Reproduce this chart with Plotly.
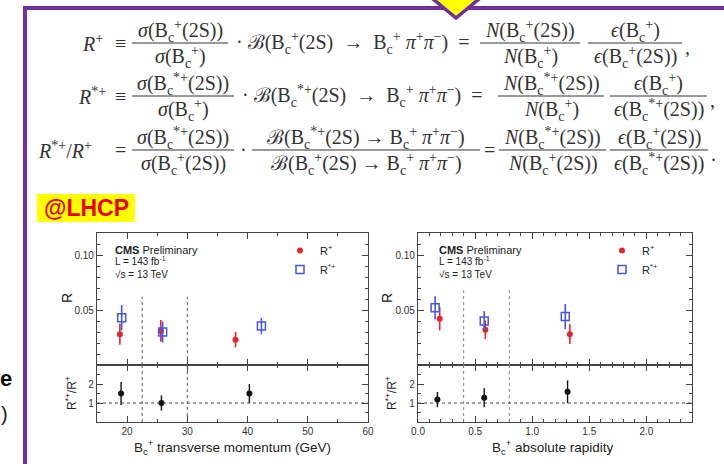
import plotly.graph_objects as go

W, H = 724, 464


def px(x):
    return x / W


def py(y):
    return 1 - y / H


# ---------------- data ----------------
# transverse momentum panel
pt_rplus_x = [18.8, 25.6, 38.0]
pt_rplus_y = [0.028, 0.031, 0.023]
pt_rplus_err = [0.0095, 0.0098, 0.007]
pt_rstar_x = [19.1, 25.9, 42.3]
pt_rstar_y = [0.043, 0.030, 0.0355]
pt_rstar_err = [0.0115, 0.0095, 0.0075]
pt_ratio_x = [19.0, 25.7, 40.3]
pt_ratio_y = [1.5, 1.0, 1.5]
pt_ratio_err = [0.6, 0.4, 0.5]
pt_bin_edges = [22.5, 30.0]

# absolute rapidity panel
y_rplus_x = [0.19, 0.59, 1.33]
y_rplus_y = [0.042, 0.032, 0.028]
y_rplus_err = [0.0106, 0.0084, 0.009]
y_rstar_x = [0.15, 0.58, 1.29]
y_rstar_y = [0.052, 0.040, 0.044]
y_rstar_err = [0.0106, 0.009, 0.0115]
y_ratio_x = [0.17, 0.58, 1.31]
y_ratio_y = [1.18, 1.28, 1.59]
y_ratio_err = [0.4, 0.5, 0.6]
y_bin_edges = [0.4, 0.8]

RED = "#e3262d"
BLUE = "#4656e6"
BLACK = "#111111"
PURPLE = "#7030A0"
EQC = "#333333"

fig = go.Figure()


def add_pair(xr, yr, er, xs, ys, es, xref, yref, legend):
    fig.add_trace(go.Scatter(
        x=xr, y=yr, mode="markers", name="R<sup>+</sup>",
        marker=dict(symbol="circle", size=6, color=RED),
        error_y=dict(type="data", array=er, color=RED, thickness=1.6, width=0),
        xaxis=xref, yaxis=yref, legend=legend, showlegend=True))
    fig.add_trace(go.Scatter(
        x=xs, y=ys, mode="markers", name="R<sup>*+</sup>",
        marker=dict(symbol="square-open", size=8, color=BLUE, line=dict(width=1.5, color=BLUE)),
        error_y=dict(type="data", array=es, color=BLUE, thickness=1.6, width=0),
        xaxis=xref, yaxis=yref, legend=legend, showlegend=True))


add_pair(pt_rplus_x, pt_rplus_y, pt_rplus_err, pt_rstar_x, pt_rstar_y, pt_rstar_err, "x", "y", "legend")
add_pair(y_rplus_x, y_rplus_y, y_rplus_err, y_rstar_x, y_rstar_y, y_rstar_err, "x3", "y3", "legend2")

fig.add_trace(go.Scatter(
    x=pt_ratio_x, y=pt_ratio_y, mode="markers", showlegend=False,
    marker=dict(symbol="circle", size=6, color=BLACK),
    error_y=dict(type="data", array=pt_ratio_err, color=BLACK, thickness=1.4, width=0),
    xaxis="x2", yaxis="y2"))
fig.add_trace(go.Scatter(
    x=y_ratio_x, y=y_ratio_y, mode="markers", showlegend=False,
    marker=dict(symbol="circle", size=6, color=BLACK),
    error_y=dict(type="data", array=y_ratio_err, color=BLACK, thickness=1.4, width=0),
    xaxis="x4", yaxis="y4"))

# ---------------- axes ----------------
TICKFONT = dict(family="Liberation Sans, Arial", size=10, color="#333")


def base_axis(**kw):
    d = dict(showline=True, linecolor="#444", linewidth=1.3, mirror="allticks",
             ticks="inside", ticklen=6, tickwidth=1.2, tickcolor="#444",
             showgrid=False, zeroline=False, tickfont=TICKFONT, automargin=False)
    d.update(kw)
    return d


L_X = [px(97), px(368)]
R_X = [px(418), px(692)]
MAIN_Y = [py(365), py(233)]
RAT_Y = [py(422), py(365)]

main_minor = [i / 100 for i in range(1, 12) if i not in (5, 10)]

fig.update_layout(
    xaxis=base_axis(domain=L_X, anchor="y", range=[15, 60], dtick=10, tick0=0,
                    showticklabels=False, matches="x2",
                    minor=dict(ticks="inside", ticklen=3, dtick=5, tick0=0, tickcolor="#444")),
    yaxis=base_axis(domain=MAIN_Y, anchor="x", range=[0, 0.12], tickmode="array",
                    tickvals=[0.05, 0.10], ticktext=["0.05", "0.10"],
                    minor=dict(ticks="inside", ticklen=3, tickmode="array", tickvals=main_minor,
                               tickcolor="#444")),
    xaxis2=base_axis(domain=L_X, anchor="y2", range=[15, 60], dtick=10, tick0=0,
                     minor=dict(ticks="inside", ticklen=3, dtick=5, tick0=0, tickcolor="#444")),
    yaxis2=base_axis(domain=RAT_Y, anchor="x2", range=[0, 3], tickmode="array",
                     tickvals=[1, 2], ticktext=["1", "2"],
                     minor=dict(ticks="inside", ticklen=3, tickmode="array", tickvals=[0.5, 1.5, 2.5],
                                tickcolor="#444")),
    xaxis3=base_axis(domain=R_X, anchor="y3", range=[0, 2.4], dtick=0.5, tick0=0,
                     showticklabels=False, matches="x4",
                     minor=dict(ticks="inside", ticklen=3, dtick=0.1, tick0=0, tickcolor="#444")),
    yaxis3=base_axis(domain=MAIN_Y, anchor="x3", range=[0, 0.12], tickmode="array",
                     tickvals=[0.05, 0.10], ticktext=["0.05", "0.10"],
                     minor=dict(ticks="inside", ticklen=3, tickmode="array", tickvals=main_minor,
                                tickcolor="#444")),
    xaxis4=base_axis(domain=R_X, anchor="y4", range=[0, 2.4], dtick=0.5, tick0=0, tickformat=".1f",
                     minor=dict(ticks="inside", ticklen=3, dtick=0.1, tick0=0, tickcolor="#444")),
    yaxis4=base_axis(domain=RAT_Y, anchor="x4", range=[0, 3], tickmode="array",
                     tickvals=[1, 2], ticktext=["1", "2"],
                     minor=dict(ticks="inside", ticklen=3, tickmode="array", tickvals=[0.5, 1.5, 2.5],
                                tickcolor="#444")),
)

# ---------------- legends ----------------
LEGFONT = dict(family="Liberation Sans, Arial", size=11, color="#222")
fig.update_layout(
    legend=dict(x=px(280), y=py(236), xanchor="left", yanchor="top", font=LEGFONT,
                bgcolor="rgba(0,0,0,0)", itemwidth=30, tracegroupgap=0),
    legend2=dict(x=px(602), y=py(236), xanchor="left", yanchor="top", font=LEGFONT,
                 bgcolor="rgba(0,0,0,0)", itemwidth=30, tracegroupgap=0),
)

shapes = []
annotations = []

# bin boundary dashed lines
for xe in pt_bin_edges:
    shapes.append(dict(type="line", xref="x", yref="y", x0=xe, x1=xe, y0=0, y1=0.062,
                       line=dict(color="#555", width=1, dash="dot")))
    shapes.append(dict(type="line", xref="x2", yref="y2 domain", x0=xe, x1=xe, y0=0, y1=1,
                       line=dict(color="#555", width=1, dash="dot")))
for xe in y_bin_edges:
    shapes.append(dict(type="line", xref="x3", yref="y3", x0=xe, x1=xe, y0=0, y1=0.068,
                       line=dict(color="#888", width=1, dash="dot")))
    shapes.append(dict(type="line", xref="x4", yref="y4 domain", x0=xe, x1=xe, y0=0, y1=1,
                       line=dict(color="#888", width=1, dash="dot")))
for xr, yr in (("x2 domain", "y2"), ("x4 domain", "y4")):
    shapes.append(dict(type="line", xref=xr, yref=yr, x0=0, x1=1, y0=1, y1=1,
                       line=dict(color="#444", width=1, dash="dot")))


def txt(x, y, text, size=10, color="#222", anchor="left", family="Liberation Sans, Arial",
        angle=0, yanchor="middle"):
    annotations.append(dict(x=px(x), y=py(y), xref="paper", yref="paper", text=text,
                            showarrow=False, xanchor=anchor, yanchor=yanchor, textangle=angle,
                            font=dict(size=size, color=color, family=family)))


# CMS labels and axis titles
for x0 in (113, 437):
    txt(x0, 250, "<b>CMS</b> Preliminary", size=11)
    txt(x0, 261, "L = 143 fb<sup>-1</sup>", size=10)
    txt(x0, 274, "√s = 13 TeV", size=10)

txt(67, 298, "R", size=14, anchor="center", angle=-90)
txt(387, 298, "R", size=14, anchor="center", angle=-90)
txt(71, 393, "R<sup>*+</sup>/R<sup>+</sup>", size=12, anchor="center", angle=-90)
txt(391, 393, "R<sup>*+</sup>/R<sup>+</sup>", size=12, anchor="center", angle=-90)
txt(232, 447, "B<sub>c</sub><sup>+</sup> transverse momentum (GeV)", size=13.5, anchor="center")
txt(553, 447, "B<sub>c</sub><sup>+</sup> absolute rapidity", size=13.5, anchor="center")

# ---------------- slide decorations ----------------
shapes.append(dict(type="rect", xref="paper", yref="paper", x0=px(23), x1=px(730), y0=py(10), y1=py(6),
                   fillcolor=PURPLE, line=dict(width=0), layer="above"))
shapes.append(dict(type="rect", xref="paper", yref="paper", x0=px(23), x1=px(27), y0=py(470), y1=py(6),
                   fillcolor=PURPLE, line=dict(width=0), layer="above"))
shapes.append(dict(type="path", xref="paper", yref="paper",
                   path=f"M {px(422)} {py(-10)} L {px(490)} {py(-10)} L {px(456)} {py(18)} Z",
                   fillcolor="#FFFF00", line=dict(color=PURPLE, width=3.5), layer="above"))
shapes.append(dict(type="rect", xref="paper", yref="paper", x0=px(37), x1=px(135), y0=py(222), y1=py(194),
                   fillcolor="#FFFF00", line=dict(width=0)))
txt(86, 208, "<b>@LHCP</b>", size=23, color="#E8000B", anchor="center", family="Liberation Sans, Arial")
txt(-2, 378, "<b>e</b>", size=22, color="#111", anchor="left", family="Liberation Sans, Arial")
txt(-1, 414, ")", size=20, color="#222", anchor="left", family="Liberation Sans, Arial")

# ---------------- equations ----------------
EQF = "Liberation Serif, Times New Roman, serif"
ES = 20
Bc = "B<sub>c</sub><sup>+</sup>"
Bcs = "B<sub>c</sub><sup>*+</sup>"
PIPI = "<i>π</i><sup>+</sup><i>π</i><sup>−</sup>"


def frac(x0, x1, ybar, num, den):
    cx = (x0 + x1) / 2
    txt(cx, ybar - 12, num, size=ES, color=EQC, anchor="center", family=EQF)
    txt(cx, ybar + 14, den, size=ES, color=EQC, anchor="center", family=EQF)
    shapes.append(dict(type="line", xref="paper", yref="paper", x0=px(x0), x1=px(x1),
                       y0=py(ybar), y1=py(ybar), line=dict(color=EQC, width=1)))


def eqtxt(x, y, text, anchor="left"):
    txt(x, y, text, size=ES, color=EQC, anchor=anchor, family=EQF)


# row 1
r1 = 43
eqtxt(80, r1, "<i>R</i><sup>+</sup>")
eqtxt(120, r1, "≡", anchor="center")
frac(132, 228, r1, f"<i>σ</i>({Bc}(2S))", f"<i>σ</i>({Bc})")
eqtxt(234, r1, f"· ℬ({Bc}(2S)  →  {Bc} {PIPI})  =")
frac(480, 580, r1, f"<i>N</i>({Bc}(2S))", f"<i>N</i>({Bc})")
frac(588, 682, r1, f"<i>ϵ</i>({Bc})", f"<i>ϵ</i>({Bc}(2S))")
eqtxt(683, r1 + 4, ",")

# row 2
r2 = 96
eqtxt(76, r2, f"<i>R</i><sup>*+</sup>")
eqtxt(120, r2, "≡", anchor="center")
frac(132, 234, r2, f"<i>σ</i>({Bcs}(2S))", f"<i>σ</i>({Bc})")
eqtxt(240, r2, f"· ℬ({Bcs}(2S)  →  {Bc} {PIPI})  =")
frac(498, 604, r2, f"<i>N</i>({Bcs}(2S))", f"<i>N</i>({Bc})")
frac(610, 707, r2, f"<i>ϵ</i>({Bc})", f"<i>ϵ</i>({Bcs}(2S))")
eqtxt(708, r2 + 4, ",")

# row 3
r3 = 150
eqtxt(36, r3, f"<i>R</i><sup>*+</sup>/<i>R</i><sup>+</sup>")
eqtxt(120, r3, "=", anchor="center")
frac(132, 234, r3, f"<i>σ</i>({Bcs}(2S))", f"<i>σ</i>({Bc}(2S))")
eqtxt(243, r3, "·", anchor="center")
frac(252, 480, r3, f"ℬ({Bcs}(2S) → {Bc} {PIPI})", f"ℬ({Bc}(2S) → {Bc} {PIPI})")
eqtxt(489, r3, "=", anchor="center")
frac(499, 606, r3, f"<i>N</i>({Bcs}(2S))", f"<i>N</i>({Bc}(2S))")
frac(610, 708, r3, f"<i>ϵ</i>({Bc}(2S))", f"<i>ϵ</i>({Bcs}(2S))")
eqtxt(709, r3 + 4, ".")

fig.update_layout(
    width=W, height=H, margin=dict(l=0, r=0, t=0, b=0),
    paper_bgcolor="white", plot_bgcolor="white",
    shapes=shapes, annotations=annotations,
    font=dict(family="Liberation Sans, Arial", color="#222"),
)

fig.write_html("out.html", config={"displayModeBar": False},
               post_script="document.body.style.margin='0px';")
